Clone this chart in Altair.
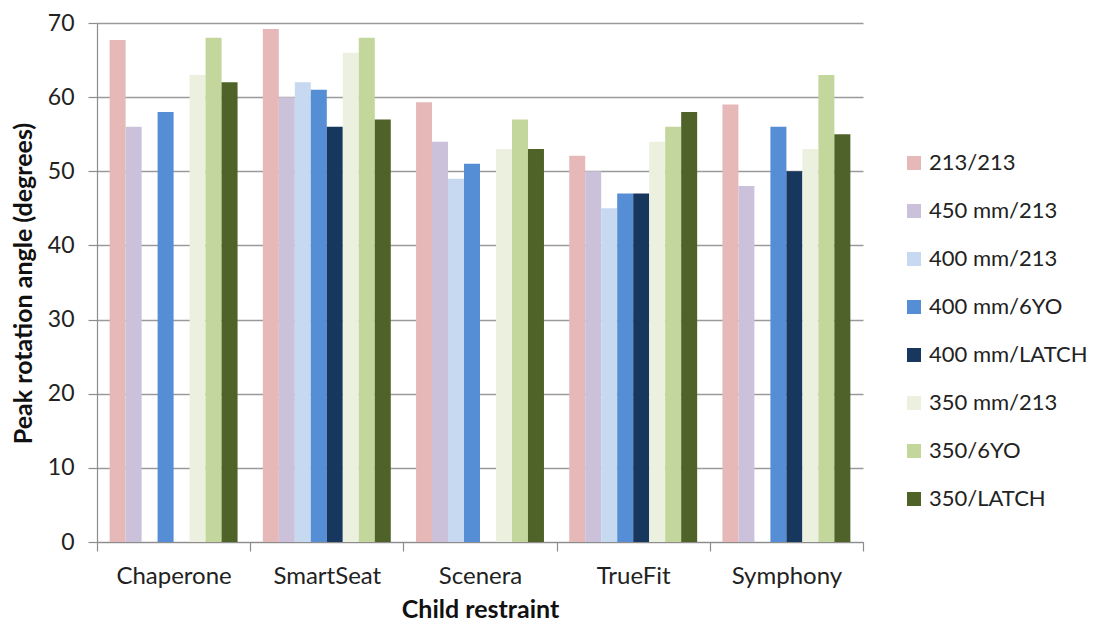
import altair as alt
import pandas as pd

categories = ["Chaperone", "SmartSeat", "Scenera", "TrueFit", "Symphony"]
series = ["213/213", "450 mm/213", "400 mm/213", "400 mm/6YO",
          "400 mm/LATCH", "350 mm/213", "350/6YO", "350/LATCH"]
colors = ["#E6B9B8", "#CCC1DA", "#C6D9F1", "#558ED5",
          "#17375E", "#EBF1DE", "#C3D69B", "#4F6228"]

v_213_213 = [67.7, 69.2, 59.3, 52.1, 59.0]
v_450_213 = [56.0, 60.0, 54.0, 50.0, 48.0]
v_400_213 = [None, 62.0, 49.0, 45.0, None]
v_400_6yo = [58.0, 61.0, 51.0, 47.0, 56.0]
v_400_latch = [None, 56.0, None, 47.0, 50.0]
v_350_213 = [63.0, 66.0, 53.0, 54.0, 53.0]
v_350_6yo = [68.0, 68.0, 57.0, 56.0, 63.0]
v_350_latch = [62.0, 57.0, 53.0, 58.0, 55.0]

all_values = [v_213_213, v_450_213, v_400_213, v_400_6yo,
              v_400_latch, v_350_213, v_350_6yo, v_350_latch]

rows = []
for s, vals in zip(series, all_values):
    for c, v in zip(categories, vals):
        if v is not None:
            rows.append({"restraint": c, "config": s, "angle": v})
df = pd.DataFrame(rows)

FONT = "Lato"

chart = alt.Chart(df).mark_bar().encode(
    x=alt.X("restraint:N", sort=categories,
            scale=alt.Scale(paddingInner=0, paddingOuter=0),
            axis=alt.Axis(title="Child restraint", labelAngle=0,
                          tickBand="extent", tickSize=9, labelPadding=13,
                          labelFontSize=24,
                          titleX=383, titleY=75, titleBaseline="alphabetic")),
    xOffset=alt.XOffset("config:N", sort=series,
                        scale=alt.Scale(domain=series, paddingInner=0, paddingOuter=0.79)),
    y=alt.Y("angle:Q",
            scale=alt.Scale(domain=[0, 70], nice=False),
            axis=alt.Axis(title="Peak rotation angle (degrees)",
                          values=[0, 10, 20, 30, 40, 50, 60, 70],
                          tickSize=9, labelPadding=14, grid=True,
                          labelFontSize=23,
                          titleX=-74, titleY=260, titleBaseline="middle",
                          titleAngle=-90)),
    color=alt.Color("config:N", sort=series,
                    scale=alt.Scale(domain=series, range=colors),
                    legend=alt.Legend(title=None, orient="none",
                                      legendX=806, legendY=129,
                                      symbolType="square", symbolSize=196,
                                      symbolStrokeWidth=0,
                                      labelFontSize=22, labelFont=FONT,
                                      labelColor="#222222", labelLimit=400,
                                      rowPadding=26, labelOffset=4,
                                      padding=0)),
).properties(
    width=766,
    height=519,
    autosize=alt.AutoSizeParams(type="none"),
    padding={"left": 89, "top": 15, "right": 228, "bottom": 79},
).configure_view(
    stroke=None
).configure_axis(
    labelFont=FONT, titleFont=FONT,
    titleFontSize=25,
    labelColor="#222222", titleColor="#111111",
    titleFontWeight="bold",
    domainColor="#8C8C8C", tickColor="#8C8C8C", gridColor="#9A9A9A",
    domainWidth=1.2, tickWidth=1.2, gridWidth=1.3,
)

chart.save("out.html", embed_options={"renderer": "svg", "actions": False})
